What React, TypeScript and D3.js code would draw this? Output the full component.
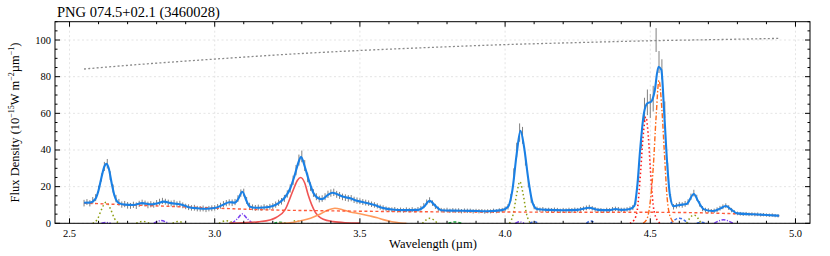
import React from 'react';
import * as d3 from 'd3';

// observed spectrum, sampled every 0.01 µm from 2.55 µm
const wavelengthStart = 2.55;
const wavelengthStep = 0.01;
const flux = [
  11.0, 11.6, 10.9, 12.5, 14.0, 18.5, 25.0, 31.0, 32.5, 26.0,
  19.0, 13.5, 11.5, 10.2, 10.5, 9.8, 9.5, 10.1, 9.6, 10.6,
  11.2, 10.8, 10.0, 10.4, 10.1, 11.0, 11.6, 12.2, 11.8, 11.2,
  10.8, 11.1, 10.4, 10.6, 9.8, 9.2, 8.8, 8.4, 8.5, 8.0,
  7.9, 8.1, 7.6, 8.0, 8.2, 8.4, 8.9, 9.6, 10.4, 11.0,
  11.4, 11.2, 11.6, 13.5, 16.5, 16.8, 12.5, 9.5, 8.7, 8.4,
  8.6, 8.3, 8.8, 8.5, 9.0, 9.4, 10.2, 11.2, 12.0, 13.6,
  16.0, 19.0, 23.5, 29.0, 34.5, 36.5, 31.5, 25.0, 20.0, 16.5,
  14.5, 13.2, 13.5, 14.5, 15.8, 16.5, 16.9, 15.8, 15.2, 14.4,
  14.0, 13.6, 13.7, 12.8, 12.4, 12.0, 11.6, 11.3, 11.0, 10.4,
  10.0, 9.5, 8.8, 8.4, 7.9, 7.6, 7.4, 7.6, 7.1, 7.3,
  7.0, 7.4, 7.2, 7.5, 7.1, 7.6, 8.2, 9.6, 11.5, 12.6,
  11.0, 9.2, 7.8, 7.2, 7.0, 7.3, 6.8, 7.1, 6.9, 7.0,
  6.6, 7.0, 6.8, 6.9, 6.5, 6.8, 6.6, 6.7, 6.4, 6.6,
  6.5, 6.8, 6.6, 7.0, 7.2, 7.8, 9.0, 14.0, 27.0, 40.0,
  49.5, 48.0, 35.0, 22.0, 13.0, 9.0, 7.8, 7.4, 7.6, 7.2,
  7.3, 7.0, 7.4, 7.1, 6.8, 7.2, 6.9, 7.3, 7.0, 7.4,
  7.2, 7.6, 8.0, 8.4, 8.8, 8.2, 7.6, 7.2, 7.0, 6.8,
  7.2, 7.1, 7.6, 7.9, 7.6, 7.3, 7.2, 7.6, 7.9, 8.6,
  12.0, 26.0, 46.0, 62.0, 66.0, 64.0, 68.0, 100.0, 88.0, 84.0,
  62.0, 30.0, 14.0, 9.0, 9.6, 10.2, 10.0, 10.6, 11.5, 14.5,
  16.5, 14.0, 10.6, 8.0, 7.2, 7.0, 6.6, 6.8, 7.4, 8.2,
  9.0, 9.6, 8.6, 7.2, 6.0, 5.4, 5.2, 5.0, 5.2, 4.9,
  5.0, 4.8, 4.9, 4.6, 4.7, 4.5, 4.4, 4.5, 4.2, 4.1,
];
const fluxError = [
  1.8, 1.6, 1.7, 1.8, 1.9, 2.0, 2.2, 2.5, 2.6, 2.4,
  2.2, 2.0, 1.8, 1.7, 1.7, 1.8, 1.6, 1.7, 1.8, 1.7,
  1.7, 1.6, 1.8, 1.7, 1.6, 1.7, 1.8, 1.7, 1.6, 1.7,
  1.6, 1.7, 1.6, 1.7, 1.6, 1.5, 1.6, 1.5, 1.6, 1.5,
  1.5, 1.6, 1.5, 1.5, 1.6, 1.5, 1.6, 1.6, 1.7, 1.7,
  1.7, 1.8, 1.7, 1.8, 2.0, 2.1, 1.9, 1.7, 1.6, 1.6,
  1.6, 1.5, 1.6, 1.5, 1.6, 1.6, 1.7, 1.7, 1.8, 1.9,
  2.0, 2.2, 2.5, 2.8, 3.0, 3.2, 3.0, 2.6, 2.3, 2.1,
  1.9, 1.8, 1.8, 1.9, 2.0, 2.0, 2.0, 1.9, 1.9, 1.8,
  1.8, 1.8, 1.7, 1.7, 1.7, 1.6, 1.6, 1.6, 1.5, 1.5,
  1.5, 1.4, 1.4, 1.4, 1.3, 1.3, 1.3, 1.3, 1.2, 1.3,
  1.2, 1.3, 1.2, 1.3, 1.2, 1.3, 1.3, 1.4, 1.5, 1.6,
  1.5, 1.4, 1.3, 1.2, 1.2, 1.2, 1.2, 1.2, 1.2, 1.2,
  1.2, 1.1, 1.2, 1.1, 1.2, 1.1, 1.2, 1.1, 1.2, 1.1,
  1.1, 1.2, 1.1, 1.2, 1.2, 1.3, 1.5, 2.0, 3.0, 4.0,
  5.0, 4.6, 3.5, 2.4, 1.8, 1.4, 1.3, 1.2, 1.3, 1.2,
  1.2, 1.3, 1.2, 1.3, 1.2, 1.2, 1.3, 1.2, 1.3, 1.2,
  1.2, 1.3, 1.2, 1.3, 1.3, 1.2, 1.3, 1.2, 1.3, 1.2,
  1.3, 1.2, 1.3, 1.2, 1.3, 1.2, 1.3, 1.2, 1.3, 1.4,
  2.0, 3.5, 5.0, 6.5, 7.0, 6.5, 7.0, 6.5, 6.0, 5.5,
  4.5, 3.0, 2.0, 1.5, 1.5, 1.5, 1.5, 1.6, 1.6, 1.7,
  1.8, 1.6, 1.5, 1.4, 1.3, 1.2, 1.2, 1.2, 1.3, 1.3,
  1.3, 1.3, 1.3, 1.2, 1.1, 1.0, 1.0, 1.0, 1.0, 1.0,
  1.0, 1.0, 1.0, 0.9, 0.9, 0.9, 0.9, 0.9, 0.9, 0.9,
];

type Pt = [number, number];

// total fitted model
const modelTotal: Pt[] = [
  [2.55, 11.2], [2.57, 11.3], [2.59, 13.5], [2.6, 18], [2.61, 25], [2.62, 31], [2.627, 32.4],
  [2.635, 30], [2.645, 22], [2.655, 15], [2.67, 11], [2.69, 10.2], [2.72, 10], [2.75, 11],
  [2.78, 10.3], [2.8, 10.8], [2.825, 11.8], [2.85, 11], [2.87, 10.6], [2.89, 10], [2.91, 8.8],
  [2.94, 8.2], [2.97, 7.9], [3.0, 8.3], [3.03, 10.2], [3.05, 11.5], [3.07, 11.3], [3.08, 13],
  [3.095, 17.2], [3.11, 12], [3.12, 9.2], [3.14, 8.5], [3.17, 8.6], [3.2, 9.4], [3.22, 11],
  [3.24, 13.8], [3.26, 19], [3.275, 26], [3.29, 34], [3.297, 36.3], [3.31, 31], [3.325, 23],
  [3.34, 16.5], [3.355, 13.8], [3.37, 13.2], [3.39, 15.5], [3.405, 16.7], [3.42, 16],
  [3.44, 14.6], [3.47, 13.5], [3.49, 12.3], [3.52, 11.2], [3.55, 10], [3.58, 8.3], [3.61, 7.5],
  [3.65, 7.2], [3.7, 7.3], [3.72, 9], [3.74, 12.3], [3.76, 9.5], [3.78, 7.1], [3.82, 6.9],
  [3.88, 6.8], [3.94, 6.6], [3.99, 7.2], [4.01, 9], [4.025, 18], [4.04, 38], [4.053, 50.5],
  [4.065, 42], [4.08, 24], [4.095, 11], [4.11, 7.8], [4.15, 7.3], [4.2, 7.1], [4.25, 7.3],
  [4.29, 8.5], [4.32, 7.3], [4.36, 7.2], [4.38, 7.8], [4.4, 7.3], [4.43, 7.8], [4.445, 9.5],
  [4.455, 20], [4.465, 40], [4.478, 60], [4.49, 65.5], [4.503, 66.3], [4.515, 72], [4.528, 85.4],
  [4.538, 83.8], [4.548, 60], [4.558, 33], [4.568, 15], [4.58, 9.3], [4.6, 10], [4.625, 10.5],
  [4.65, 16], [4.665, 12], [4.685, 7.6], [4.715, 6.7], [4.74, 8], [4.76, 9.4], [4.78, 7.3],
  [4.8, 5.4], [4.855, 4.9], [4.9, 4.5], [4.944, 4.1],
];

const continuum: Pt[] = [
  [2.55, 11.0], [2.65, 10.4], [2.75, 9.8], [2.85, 9.2], [2.95, 8.6], [3.05, 8.0], [3.15, 7.5],
  [3.25, 7.1], [3.35, 6.9], [3.5, 6.6], [3.7, 6.3], [3.9, 6.2], [4.1, 6.1], [4.3, 6.0],
  [4.5, 6.0], [4.65, 5.8], [4.75, 5.4], [4.85, 4.9], [4.944, 4.1],
];

const scaledReference: Pt[] = [
  [2.55, 84.2], [2.75, 86.8], [3.0, 89.6], [3.25, 92.2], [3.5, 94.3], [3.75, 96.0],
  [4.0, 97.5], [4.25, 98.6], [4.5, 99.6], [4.75, 100.3], [4.944, 100.9],
];

const hydrogenLines: Pt[][] = [
  [[2.58, 0], [2.597, 2.5], [2.61, 7.5], [2.626, 11.5], [2.642, 7.5], [2.655, 2.5], [2.672, 0]],
  [[2.73, 0], [2.752, 1.1], [2.775, 0]],
  [[2.855, 0], [2.875, 1.0], [2.895, 0]],
  [[3.015, 0], [3.04, 1.4], [3.065, 0]],
  [[3.26, 0], [3.28, 1.4], [3.3, 0]],
  [[3.715, 0], [3.741, 2.7], [3.767, 0]],
  [[4.015, 0], [4.028, 5], [4.04, 16], [4.051, 22.7], [4.062, 16], [4.074, 5], [4.087, 0]],
  [[4.625, 0], [4.65, 4.5], [4.675, 0]],
];

const heliumLines: Pt[][] = [
  [[2.61, 0], [2.626, 0.4], [2.642, 0]],
  [[2.79, 0], [2.815, 1.5], [2.84, 0]],
  [[3.06, 0], [3.078, 2.5], [3.095, 5.1], [3.112, 2.5], [3.13, 0]],
  [[4.035, 0], [4.05, 0.8], [4.065, 0]],
  [[4.72, 0], [4.752, 1.9], [4.785, 0]],
];

const molecularLines: Pt[][] = [
  [[4.085, 0], [4.1, 0.9], [4.115, 0]],
  [[4.28, 0], [4.295, 1.3], [4.31, 0]],
  [[4.57, 0], [4.6, 2.8], [4.63, 0]],
  [[4.66, 0], [4.677, 0.6], [4.695, 0]],
];

const otherLines: Pt[][] = [
  [[3.205, 0], [3.225, 0.6], [3.245, 0]],
  [[3.805, 0], [3.827, 0.7], [3.85, 0]],
];

const pah33: Pt[] = [
  [3.05, 0.1], [3.1, 0.3], [3.15, 0.8], [3.19, 1.8], [3.213, 3.3], [3.242, 7.3], [3.27, 18],
  [3.285, 23.5], [3.296, 25], [3.31, 22], [3.322, 15.4], [3.345, 6.4], [3.374, 2.2],
  [3.408, 0.9], [3.45, 0.3], [3.5, 0.1],
];

const plateau34: Pt[] = [
  [3.22, 0], [3.26, 0.3], [3.3, 1.5], [3.33, 2.8], [3.36, 4.8], [3.39, 7.2], [3.414, 8.2],
  [3.44, 7.4], [3.466, 6.2], [3.5, 5.2], [3.535, 4.0], [3.56, 3.0], [3.58, 2.0], [3.61, 0.8],
  [3.64, 0.2], [3.66, 0],
];

const band448: Pt[] = [
  [4.43, 0], [4.445, 2], [4.455, 7], [4.467, 29], [4.475, 47], [4.485, 58], [4.493, 48],
  [4.501, 28], [4.51, 10], [4.52, 3], [4.535, 0],
];

const band453: Pt[] = [
  [4.475, 0], [4.49, 3], [4.5, 12], [4.51, 30], [4.52, 58], [4.53, 78], [4.54, 62],
  [4.548, 40], [4.558, 14], [4.57, 3], [4.585, 0],
];

const xTicks = [2.5, 3.0, 3.5, 4.0, 4.5, 5.0];
const yTicks = [0, 20, 40, 60, 80, 100];

const title = 'PNG 074.5+02.1 (3460028)';

const left = 55, right = 810, top = 21.7, bottom = 223.3;

const App = () => {
  const x = d3.scaleLinear().domain([2.45, 5.05]).range([left, right]);
  const y = d3.scaleLinear().domain([0, 110]).range([bottom, top]);
  const line = d3.line<Pt>().x((d) => x(d[0])).y((d) => y(d[1])).curve(d3.curveMonotoneX);

  const xMinor = d3.range(2.5, 5.001, 0.1).map((v) => +v.toFixed(2));
  const yMinor = d3.range(0, 110.01, 5);

  const obs = flux.map((f, i) => ({ w: wavelengthStart + i * wavelengthStep, f, e: fluxError[i] }));

  const group = (lines: Pt[][], color: string, dash: string, key: string) =>
    lines.map((l, i) => (
      <path key={key + i} d={line(l) || ''} fill="none" stroke={color} strokeWidth={1.5}
        strokeDasharray={dash} />
    ));

  return (
    <svg width={830} height={256} style={{ position: 'absolute', left: 0, top: 0 }}
      fontFamily="'Liberation Serif', 'DejaVu Serif', serif">
      <rect x={0} y={0} width={830} height={256} fill="#fff" />
      {/* grid */}
      {xTicks.map((t) => (
        <line key={'gx' + t} x1={x(t)} x2={x(t)} y1={top} y2={bottom} stroke="#ddd"
          strokeWidth={0.8} strokeDasharray="2,2.5" />
      ))}
      {yTicks.map((t) => (
        <line key={'gy' + t} x1={left} x2={right} y1={y(t)} y2={y(t)} stroke="#ddd"
          strokeWidth={0.8} strokeDasharray="2,2.5" />
      ))}

      {/* reference curve */}
      <path d={line(scaledReference) || ''} fill="none" stroke="#8a8a8a" strokeWidth={1.3}
        strokeDasharray="2,2.2" />

      {/* error bars */}
      {obs.map((d, i) => (
        <line key={'e' + i} x1={x(d.w)} x2={x(d.w)} y1={y(Math.max(0, d.f - d.e))} y2={y(d.f + d.e)}
          stroke="#808080" strokeWidth={1} />
      ))}

      {/* components */}
      {group(hydrogenLines, '#8c9d0f', '1.5,2.5', 'h')}
      {group(heliumLines, '#7a3ff0', '4,1.5,1,1.5', 'he')}
      {group(molecularLines, '#3f6fe6', '3,2', 'm')}
      {group(otherLines, '#19a83a', '3,2', 'o')}
      <path d={line(pah33) || ''} fill="none" stroke="#f05454" strokeWidth={1.6} />
      <path d={line(plateau34) || ''} fill="none" stroke="#ff9a5c" strokeWidth={1.6} />
      <path d={line(band448) || ''} fill="none" stroke="#ff1a1a" strokeWidth={1.6} strokeDasharray="1.5,2.5" />
      <path d={line(band453) || ''} fill="none" stroke="#ff6a1a" strokeWidth={1.4} strokeDasharray="5,2,1.5,2" />
      <path d={line(continuum) || ''} fill="none" stroke="#ff5a3a" strokeWidth={1.4} strokeDasharray="3,2.5" />

      {/* model */}
      <path d={line(modelTotal) || ''} fill="none" stroke="#1a80e5" strokeWidth={2.1} />

      {/* frame and ticks */}
      <rect x={left} y={top} width={right - left} height={bottom - top} fill="none" stroke="#000" strokeWidth={1} />
      {xMinor.map((t) => {
        const major = xTicks.some((m) => Math.abs(m - t) < 1e-6);
        const len = major ? 5 : 2.5;
        return (
          <g key={'xt' + t}>
            <line x1={x(t)} x2={x(t)} y1={bottom} y2={bottom - len} stroke="#000" />
            <line x1={x(t)} x2={x(t)} y1={top} y2={top + len} stroke="#000" />
          </g>
        );
      })}
      {yMinor.map((t) => {
        const major = t % 20 === 0;
        const len = major ? 5 : 2.5;
        return (
          <g key={'yt' + t}>
            <line x1={left} x2={left + len} y1={y(t)} y2={y(t)} stroke="#000" />
            <line x1={right} x2={right - len} y1={y(t)} y2={y(t)} stroke="#000" />
          </g>
        );
      })}
      {xTicks.map((t) => (
        <text key={'xl' + t} x={x(t)} y={bottom + 13.5} fontSize={10.5} textAnchor="middle">{t.toFixed(1)}</text>
      ))}
      {yTicks.map((t) => (
        <text key={'yl' + t} x={left - 4} y={y(t) + 3.5} fontSize={10.5} textAnchor="end">{t}</text>
      ))}

      <text x={(left + right) / 2 + 0.5} y={248} fontSize={12.5} textAnchor="middle">Wavelength (µm)</text>
      <text transform={`translate(19,${(top + bottom) / 2}) rotate(-90)`} fontSize={12.5} textAnchor="middle">
        Flux Density (10<tspan fontSize={8} dy={-5}>−15</tspan>
        <tspan dy={5}>W m</tspan><tspan fontSize={8} dy={-5}>−2</tspan>
        <tspan dy={5}>µm</tspan><tspan fontSize={8} dy={-5}>−1</tspan>
        <tspan dy={5}>)</tspan>
      </text>
      <text x={57} y={17} fontSize={14.5}>{title}</text>
    </svg>
  );
};

export default App;
